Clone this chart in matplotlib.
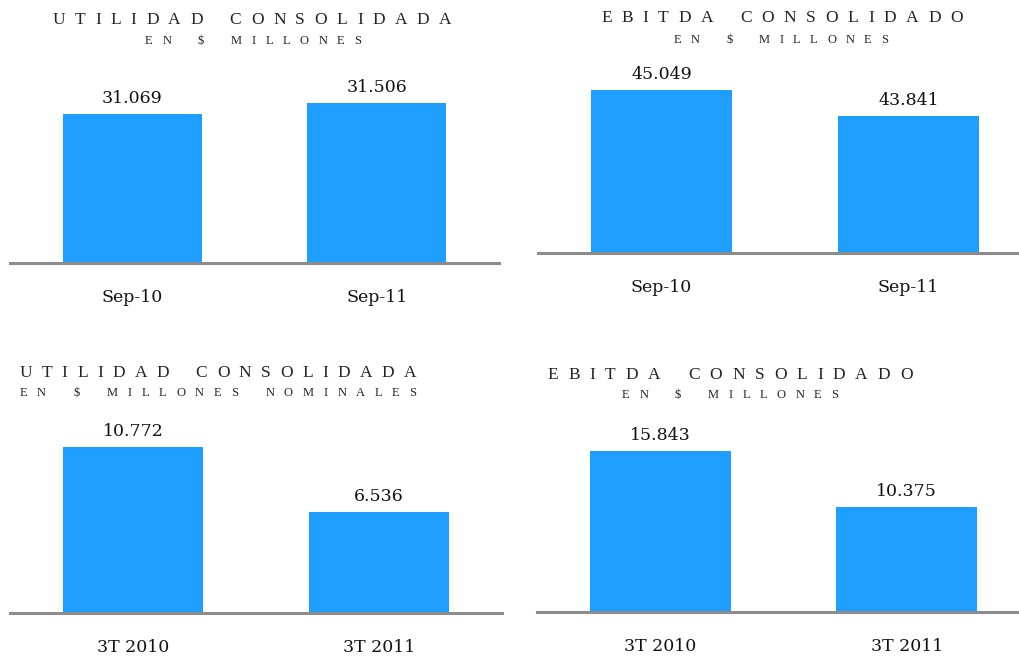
import matplotlib
matplotlib.use("Agg")
import matplotlib.pyplot as plt

# data (millones)
cats_sep = ["Sep-10", "Sep-11"]
cats_3t = ["3T 2010", "3T 2011"]
utilidad_sep = [31069, 31506]
ebitda_sep = [45049, 43841]
utilidad_3t = [10772, 6536]
ebitda_3t = [15843, 10375]

W, H = 1020, 656
bar_color = "#1e9fff"
line_color = "#8c8c8c"
num_font = "DejaVu Serif"
title_font = "Liberation Serif"

fig = plt.figure(figsize=(W / 100, H / 100), dpi=100)
fig.patch.set_facecolor("white")
renderer = fig.canvas.get_renderer()


def spaced_text(cx, cy, text, size, width, word_k=2.8):
    """Letter-spaced caps, centred at (cx, cy) in pixels from top-left."""
    words = text.split(" ")
    widths = []
    for w in words:
        ws = []
        for ch in w:
            t = fig.text(0, 0, ch, fontsize=size, family=title_font)
            ws.append(t.get_window_extent(renderer).width)
            t.remove()
        widths.append(ws)
    total = sum(sum(ws) for ws in widths)
    n_in = sum(len(w) - 1 for w in words)
    n_word = len(words) - 1
    track = (width - total) / (n_in + word_k * n_word)
    x = cx - width / 2
    for i, w in enumerate(words):
        for ch, cw in zip(w, widths[i]):
            fig.text(x / W, 1 - cy / H, ch, fontsize=size, family=title_font,
                     ha="left", va="center", color="#222222")
            x += cw + track
        x += track * (word_k - 1)


def panel(left, base, width, height, cats, vals, ylim):
    ax = fig.add_axes([left / W, (H - base) / H, width / W, height / H])
    bars = ax.bar(range(len(vals)), vals, width=0.57, color=bar_color)
    ax.set_xlim(-0.5, 1.5)
    ax.set_ylim(*ylim)
    for s in ["left", "top", "right"]:
        ax.spines[s].set_visible(False)
    ax.spines["bottom"].set_color(line_color)
    ax.spines["bottom"].set_linewidth(2.2)
    ax.spines["bottom"].set_zorder(3)
    ax.set_yticks([])
    ax.set_xticks(range(len(cats)))
    ax.set_xticklabels(cats, fontsize=12.5, family=num_font, color="#111111")
    ax.tick_params(axis="x", length=0, pad=18.5)
    ax.bar_label(bars, labels=[f"{v:,}".replace(",", ".") for v in vals],
                 padding=5, fontsize=12.5, family=num_font, color="#111111")
    ax.patch.set_alpha(0)
    return ax


panel(10, 263, 489, 200, cats_sep, utilidad_sep, (25000, 33150))
panel(538, 253, 494, 200, cats_sep, ebitda_sep, (37500, 46760))
panel(10, 613, 492, 200, cats_3t, utilidad_3t, (0, 12980))
panel(537, 612, 493, 200, cats_3t, ebitda_3t, (0, 19690))

spaced_text(252, 20, "UTILIDAD CONSOLIDADA", 12.5, 399)
spaced_text(253, 41, "EN $ MILLONES", 9, 216)
spaced_text(782, 18, "EBITDA CONSOLIDADO", 12.5, 362)
spaced_text(781, 40, "EN $ MILLONES", 9, 214)
spaced_text(218, 373, "UTILIDAD CONSOLIDADA", 12.5, 397)
spaced_text(218, 393, "EN $ MILLONES NOMINALES", 9, 397)
spaced_text(730, 375, "EBITDA CONSOLIDADO", 12.5, 365)
spaced_text(730, 395, "EN $ MILLONES", 9, 216)

fig.savefig("out.png", dpi=100)
